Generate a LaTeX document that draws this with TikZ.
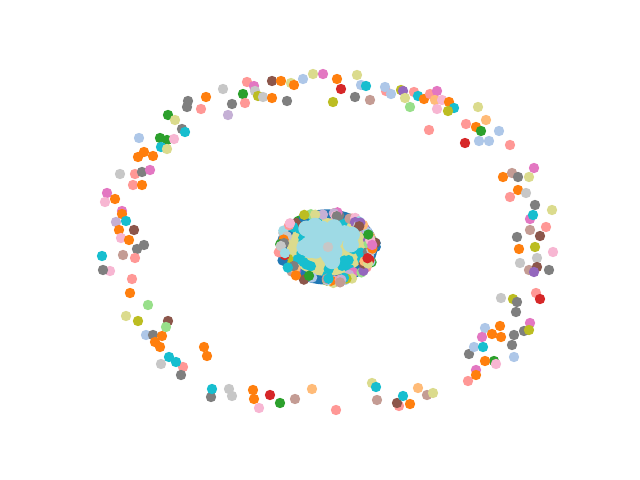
\documentclass[tikz,border=0pt]{standalone}
\usepackage{tikz}

\definecolor{tblue}{HTML}{1F77B4}
\definecolor{lblue}{HTML}{AEC7E8}
\definecolor{torange}{HTML}{FF7F0E}
\definecolor{lorange}{HTML}{FFBB78}
\definecolor{tgreen}{HTML}{2CA02C}
\definecolor{lgreen}{HTML}{98DF8A}
\definecolor{tred}{HTML}{D62728}
\definecolor{lred}{HTML}{FF9896}
\definecolor{tpurple}{HTML}{9467BD}
\definecolor{lpurple}{HTML}{C5B0D5}
\definecolor{tbrown}{HTML}{8C564B}
\definecolor{lbrown}{HTML}{C49C94}
\definecolor{tpink}{HTML}{E377C2}
\definecolor{lpink}{HTML}{F7B6D2}
\definecolor{tgray}{HTML}{7F7F7F}
\definecolor{lgray}{HTML}{C7C7C7}
\definecolor{tolive}{HTML}{BCBD22}
\definecolor{lolive}{HTML}{DBDB8D}
\definecolor{tcyan}{HTML}{17BECF}
\definecolor{lcyan}{HTML}{9EDAE5}

\begin{document}
\begin{tikzpicture}[x=0.025cm,y=-0.025cm]
        \useasboundingbox (0,0) rectangle (640,480);
        % outer ring
        \foreach \x/\y/\c in {
            247/82/lred, 254/86/tpink, 272/81/tbrown, 281/81/torange, 291/83/lolive,
            294/85/torange, 303/79/lblue, 313/74/lolive, 323/74/tpink, 243/94/tgreen,
            255/91/lgray, 258/96/tolive, 263/97/lgray, 272/98/torange, 287/101/tgray,
            245/103/lred, 232/104/tgray, 223/89/lgray, 206/97/torange, 201/109/lred,
            228/115/lpurple, 188/101/tgray, 187/107/tgray, 168/115/tgreen, 175/120/lolive,
            182/129/tgray, 185/132/tcyan, 139/138/lblue, 160/138/tgreen, 167/140/tgreen,
            174/139/lpink, 161/147/tcyan, 167/149/lolive, 138/157/torange, 144/152/torange,
            153/156/torange, 120/174/lgray, 135/174/lred, 142/172/tgray, 150/170/tpink,
            133/185/lred, 142/185/torange, 107/193/tpink, 115/199/torange, 105/202/lpink,
            122/211/tpink, 122/214/torange, 126/221/tcyan, 116/222/lpurple, 119/230/torange,
            134/230/tbrown, 121/238/lpink, 129/240/torange,
            102/256/tcyan, 110/271/lpink, 103/270/tgray, 123/255/lbrown, 137/249/tgray,
            144/245/tgray, 135/258/lred, 132/279/lred, 130/293/torange, 148/305/lgreen,
            126/316/lolive, 138/321/tolive, 168/321/tbrown, 166/327/lgreen, 146/335/lblue,
            153/335/tgray, 162/336/torange, 155/342/torange, 160/347/torange, 169/357/tcyan,
            183/367/lred, 176/362/tcyan, 181/375/tgray, 161/364/lgray, 204/347/torange,
            207/356/torange, 211/397/tgray, 212/389/tcyan, 229/389/lgray, 232/396/lgray,
            253/390/torange, 254/399/torange, 259/408/lpink, 270/395/tred, 280/403/tgreen,
            295/399/lbrown, 312/389/lorange,
            336/410/lred, 372/383/lolive, 376/387/tcyan, 377/400/lbrown, 399/406/lred,
            397/403/tbrown, 403/396/tcyan, 410/404/torange, 418/388/lorange, 427/395/lbrown,
            433/393/lolive, 468/381/lred, 476/370/tpink, 476/375/torange, 494/361/tgreen,
            496/364/lpink, 485/361/torange, 469/354/tgray, 474/347/lblue, 483/347/tcyan,
            485/328/lblue, 482/337/tpink, 500/326/torange, 492/334/torange, 501/337/torange,
            514/335/tgray, 512/345/tgray, 514/357/lblue, 524/331/tgray, 530/323/tpink,
            529/330/tolive, 501/298/lgray, 513/299/tolive, 517/302/tgray, 516/312/tgray,
            536/293/lred, 540/299/tred,
            510/145/lred, 534/168/tpink, 512/173/lbrown, 518/177/tgray, 529/177/lolive,
            503/177/torange, 518/190/torange, 526/193/lgray, 510/197/lred, 535/205/tgray,
            552/210/lolive, 530/219/tpink, 533/215/tcyan, 546/227/lred, 530/230/lbrown,
            540/236/tbrown, 517/237/tgray, 519/249/torange, 535/247/tolive, 553/252/lpink,
            520/263/lgray, 537/258/lgray, 529/270/lbrown, 537/267/tbrown, 534/272/tpurple,
            549/270/tgray,
            337/79/torange, 341/89/tred, 333/102/tolive, 357/75/lolive, 355/97/tgray,
            370/100/lbrown, 361/85/lblue, 366/86/tcyan, 386/91/lred, 385/87/lblue,
            391/94/lblue, 401/90/tolive, 403/91/tpurple, 405/98/lolive, 410/107/lgreen,
            414/92/lred, 418/96/tcyan, 424/99/torange, 430/94/lred, 437/91/tpink,
            435/100/lorange, 442/100/lpink, 437/109/lpink, 449/102/torange, 454/108/tcyan,
            448/111/tolive, 429/130/lred, 478/107/lolive, 486/120/lorange, 466/124/lred,
            476/127/torange, 481/131/tgreen, 479/141/lblue, 489/141/lblue, 499/131/lblue,
            465/143/tred}
            \fill[\c] (\x,\y) circle (0.13cm);
        % inner cluster
        \pgfmathsetseed{42}
        \fill[tblue] (327,247) ellipse (1.26cm and 0.94cm);
        \fill[lolive] (327,247) ellipse (1.0cm and 0.72cm);
        \foreach \k in {1,...,22}{
            \pgfmathsetmacro\a{rnd*360}
            \pgfmathsetmacro\r{0.5+0.3*rnd}
            \fill[tcyan] ({327+49*\r*cos(\a)},{247+37*\r*sin(\a)}) circle (0.13cm);
        }
        \foreach \k in {1,...,5}
            \foreach \c in {tblue,lblue,torange,lorange,tgreen,lgreen,tred,lred,tpurple,lpurple,
                            tbrown,lbrown,tpink,lpink,tgray,lgray,tolive,lolive,tcyan,lcyan}{
                \pgfmathsetmacro\a{rnd*360}
                \pgfmathsetmacro\r{0.84+0.16*rnd}
                \fill[\c] ({327+49*\r*cos(\a)},{247+37*\r*sin(\a)}) circle (0.13cm);
            }
        \foreach \k in {1,...,30}{
            \pgfmathsetmacro\a{rnd*360}
            \pgfmathsetmacro\r{0.62*rnd}
            \fill[lcyan] ({325+49*\r*cos(\a)},{245+37*\r*sin(\a)}) circle (0.2cm);
        }
        \fill[lgray] (328,247) circle (0.13cm);
    \end{tikzpicture}
\end{document}
